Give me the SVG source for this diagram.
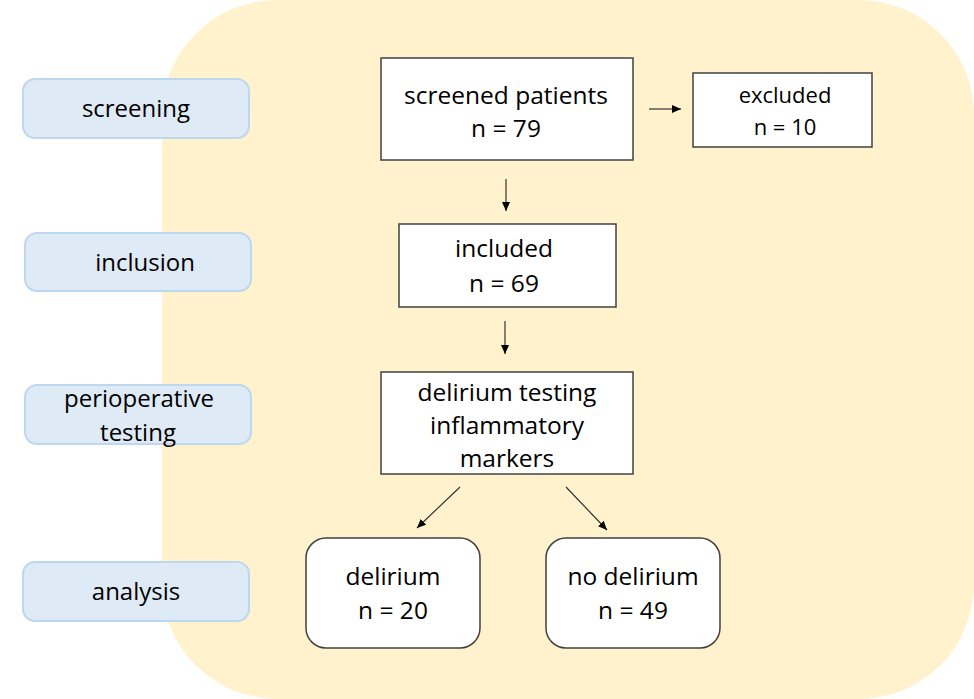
<svg xmlns="http://www.w3.org/2000/svg" width="974" height="699" viewBox="0 0 974 699">
<style>
.bg{fill:#FFF2CC;}
.lbl{fill:#DEEAF6;stroke:#BDD7EE;stroke-width:2;}
.box{fill:#FFFFFF;stroke:#404040;stroke-width:1.5;}
text{font-family:"Open Sans","Noto Sans","DejaVu Sans",sans-serif;fill:#000000;text-anchor:middle;}
.t24{font-size:24.5px;}
.t22{font-size:22px;}
.lt{font-size:24px;}
.conn{stroke:#333333;stroke-width:1.2;fill:none;marker-end:url(#ah);}
</style>
<defs>
<marker id="ah" markerUnits="userSpaceOnUse" markerWidth="10" markerHeight="8" refX="9" refY="4" orient="auto">
<path d="M0,0 L9,4 L0,8 Z" fill="#000000"/>
</marker>
</defs>
<rect class="bg" x="162" y="0" width="812" height="699" rx="115" ry="115"/>
<g id="lbl-screening">
<rect class="lbl" x="23" y="79" width="226" height="59" rx="12"/>
<text class="lt" x="136" y="117">screening</text>
</g>
<g id="lbl-inclusion">
<rect class="lbl" x="25" y="233" width="226" height="58" rx="12"/>
<text class="lt" x="145" y="271">inclusion</text>
</g>
<g id="lbl-perioperative">
<rect class="lbl" x="25" y="385" width="226" height="59" rx="12"/>
<text class="lt" x="139" y="407">perioperative</text>
<text class="lt" x="138" y="441">testing</text>
</g>
<g id="lbl-analysis">
<rect class="lbl" x="23" y="562" width="226" height="59" rx="12"/>
<text class="lt" x="136" y="600">analysis</text>
</g>
<g id="screened">
<rect class="box" x="381" y="58" width="252" height="102"/>
<text class="t24" x="506" y="104">screened patients</text>
<text class="t24" x="506" y="137">n = 79</text>
</g>
<g id="excluded">
<rect class="box" x="693" y="73" width="179" height="74"/>
<text class="t22" x="785" y="103">excluded</text>
<text class="t22" x="785" y="135">n = 10</text>
</g>
<g id="included">
<rect class="box" x="399" y="224" width="217" height="83"/>
<text class="t24" x="504" y="257">included</text>
<text class="t24" x="504" y="292">n = 69</text>
</g>
<g id="testing">
<rect class="box" x="381" y="372" width="252" height="102"/>
<text class="t24" x="507" y="401">delirium testing</text>
<text class="t24" x="507" y="434">inflammatory</text>
<text class="t24" x="507" y="467">markers</text>
</g>
<g id="delirium">
<rect class="box" x="306" y="538" width="174" height="110" rx="20"/>
<text class="t24" x="393" y="585">delirium</text>
<text class="t24" x="393" y="619">n = 20</text>
</g>
<g id="nodelirium">
<rect class="box" x="546" y="538" width="174" height="110" rx="20"/>
<text class="t24" x="633" y="585">no delirium</text>
<text class="t24" x="633" y="619">n = 49</text>
</g>
<g id="connectors">
<line class="conn" x1="649" y1="109" x2="681" y2="109"/>
<line class="conn" x1="506" y1="179" x2="506" y2="211"/>
<line class="conn" x1="505" y1="321" x2="505" y2="354"/>
<line class="conn" x1="460" y1="487" x2="417" y2="528"/>
<line class="conn" x1="566" y1="487" x2="607" y2="530"/>
</g>
</svg>
